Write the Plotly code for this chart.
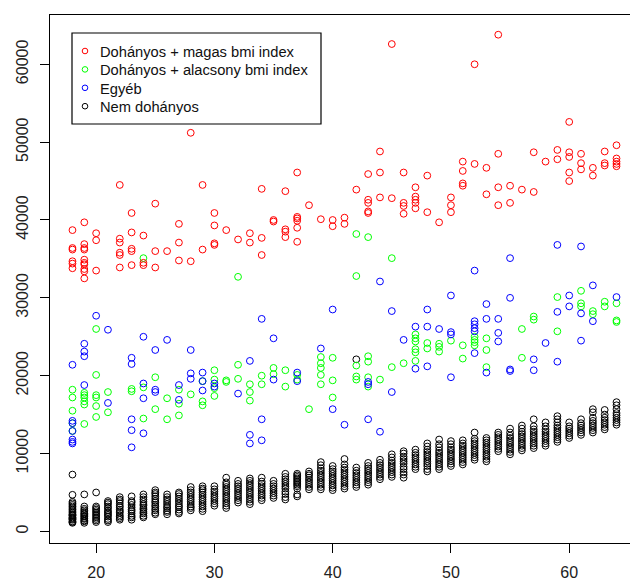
import plotly.graph_objects as go

# ---- data (age, charges in thousands of USD) ----
red_points = [
    (28,51.2),(22,44.5),(29,44.5),(37,46.1),(34,44.0),(36,43.7),(25,42.1),(38,41.9),(23,40.9),(30,40.9),
    (19,39.7),(18,38.7),(20,38.3),(20,37.4),(22,37.6),(22,37.1),(23,38.4),(24,38.0),(27,39.5),(27,37.1),
    (30,39.3),(30,37.0),(30,36.8),(31,38.7),(33,38.3),(32,37.5),(33,37.1),(34,37.7),(34,35.5),(35,40.0),
    (35,39.8),(36,38.8),(36,38.5),(36,37.8),(37,40.4),(37,40.2),(37,39.9),(37,39.0),(37,37.2),(39,40.1),
    (40,40.0),(40,39.2),(18,36.4),(18,36.2),(18,34.7),(18,34.4),(18,33.8),(19,36.9),(19,36.4),(19,36.2),
    (19,34.9),(19,34.5),(19,34.3),(19,33.7),(19,33.4),(19,32.5),(20,33.5),(22,35.8),(22,35.5),(22,33.9),
    (23,36.3),(23,36.0),(23,34.2),(24,34.5),(24,34.2),(25,36.0),(25,33.9),(26,36.0),(27,34.8),(28,34.7),
    (29,36.2),
    (60,52.6),(44,48.8),(43,45.9),(44,46.1),(46,46.1),(48,45.7),(42,43.9),(47,44.2),(43,42.6),(43,42.2),
    (43,41.1),(43,40.9),(44,42.9),(45,42.8),(46,42.2),(46,41.8),(46,40.8),(47,43.0),(47,42.6),(47,42.2),
    (47,41.5),(48,41.0),(49,39.7),(50,42.9),(50,41.9),(50,41.0),(51,47.5),(51,46.3),(51,44.7),(51,44.4),
    (52,47.2),(53,46.7),(53,43.3),(54,48.5),(54,44.2),(54,41.9),(55,44.4),(55,42.2),(56,43.9),(57,48.7),
    (57,43.6),(58,47.5),(59,49.0),(59,47.8),(60,48.7),(60,48.1),(60,46.1),(60,45.0),(61,48.5),(61,47.3),
    (61,46.5),(62,46.7),(62,45.7),(63,48.8),(63,47.3),(63,47.0),(64,49.6),(64,47.9),(64,47.5),(64,47.2),
    (64,46.9),(41,40.3),(41,39.5),(45,62.6),(52,60.0),(54,63.8),
]

green_points = [
    (24,35.1),(32,32.7),(42,38.2),(43,37.8),(45,35.1),(42,32.8),
    (20,26.0),(20,20.1),(18,18.2),(18,17.2),(19,17.8),(19,17.5),(19,17.2),(19,16.7),(19,16.3),(20,17.5),
    (20,17.2),(20,16.1),(21,17.9),(21,15.3),(18,15.5),(18,13.9),(19,13.8),(20,14.7),(23,18.3),(23,18.0),
    (24,18.5),(24,14.5),(25,19.8),(25,15.7),(26,17.1),(26,14.4),(27,18.2),(27,16.4),(27,14.9),(28,17.6),
    (29,19.3),(29,16.7),(29,16.2),(30,20.7),(30,19.5),(30,18.4),(30,17.4),(31,19.4),(31,19.2),(32,21.4),
    (32,19.6),(33,18.9),(33,17.9),(33,16.8),(34,20.0),(34,18.9),(35,21.0),(35,20.2),(36,20.7),(36,18.6),
    (37,20.1),(37,19.5),(38,15.7),(39,22.4),(39,21.6),(39,21.0),(39,20.1),(39,18.9),(40,22.3),(40,19.4),
    (40,17.2),(18,12.9),
    (42,21.3),(42,19.9),(42,19.5),(43,22.5),(43,21.8),(43,19.8),(43,18.6),(44,19.5),(45,21.1),(46,21.6),
    (47,25.3),(47,24.8),(47,24.4),(47,23.4),(47,23.0),(47,21.9),(48,24.2),(48,23.5),(49,24.1),(49,23.7),
    (49,23.1),(50,24.5),(51,23.9),(51,22.2),(52,25.0),(52,24.6),(52,24.3),(52,23.9),(53,24.8),(53,23.3),
    (53,21.1),(56,26.0),(56,22.3),(57,27.6),(57,27.2),(59,30.1),(59,25.7),(61,30.9),(61,29.3),(61,28.9),
    (62,28.3),(62,27.9),(63,29.5),(63,28.9),(64,29.3),(64,27.1),(64,26.9),
]

blue_points = [
    (44,32.1),(52,33.5),(55,35.1),(59,36.8),(61,36.6),(62,31.6),
    (20,27.7),(21,25.9),(19,24.1),(19,23.1),(19,22.5),(18,21.4),(24,25.0),(26,24.6),(25,23.3),(23,22.3),
    (23,21.5),(28,23.3),(34,27.3),(35,24.8),(33,21.9),(40,28.5),(39,23.5),(19,18.8),(18,14.2),(18,13.9),
    (18,12.9),(18,11.8),(18,11.5),(18,11.3),(21,16.5),(23,14.4),(23,13.0),(23,10.8),(24,19.0),(24,17.1),
    (24,12.6),(25,18.2),(25,17.9),(27,18.8),(27,16.9),(28,20.3),(28,19.6),(29,20.4),(29,19.3),(29,18.1),
    (30,19.0),(30,18.6),(32,17.7),(34,14.4),(34,11.7),(33,12.4),(33,11.3),(35,19.5),(37,20.4),(37,19.3),
    (40,15.7),
    (45,28.3),(48,28.5),(50,30.3),(53,29.2),(55,30.0),(60,30.3),(64,30.1),(47,26.3),(48,26.3),(49,26.0),
    (46,24.6),(50,25.6),(50,25.3),(52,27.0),(52,26.6),(52,26.1),(52,25.7),(52,22.9),(53,27.3),(54,27.3),
    (54,25.5),(54,24.4),(53,20.4),(55,20.8),(55,20.6),(57,22.1),(57,20.7),(58,24.2),(59,28.2),(59,21.8),
    (60,28.9),(61,28.0),(61,24.5),(62,27.0),(47,20.9),(48,21.2),(50,19.8),(43,19.2),(43,18.9),(45,17.9),
    (41,13.7),(43,14.4),(44,12.8),
]

nonsmoker_ages = list(range(18, 65))
nonsmoker_charges = [
    [1.1,1.2,1.3,1.5,1.6,1.7,1.8,2.0,2.1,2.2,2.4,2.6,2.8,3.0,3.2,3.4,3.6,3.8,4.7,7.3],
    [1.1,1.3,1.4,1.6,1.7,1.9,2.0,2.2,2.3,2.5,2.7,2.9,3.2,4.75],
    [1.2,1.4,1.6,1.8,2.0,2.2,2.4,2.6,2.8,3.0,3.2,5.0],
    [1.2,1.4,1.6,1.9,2.1,2.3,2.5,2.7,3.0,3.2,3.5,3.7,3.9],
    [1.5,1.7,1.9,2.1,2.4,2.6,2.8,3.1,3.3,3.6,3.9,4.1,4.4],
    [1.5,1.8,2.0,2.3,2.6,2.8,3.1,3.4,3.7,3.9,4.5],
    [1.8,2.0,2.3,2.5,2.8,3.0,3.3,3.5,3.8,4.1,4.4,4.75],
    [2.2,2.4,2.7,2.9,3.2,3.4,3.7,3.9,4.2,4.5,4.8,5.0,5.3],
    [2.2,2.5,2.7,3.0,3.2,3.5,3.8,4.1,4.4,4.75],
    [2.3,2.5,2.8,3.1,3.3,3.6,3.9,4.2,4.5,4.8,5.0],
    [2.7,3.0,3.2,3.5,3.8,4.1,4.4,4.7,5.0,5.3,5.7],
    [2.6,2.9,3.2,3.5,3.8,4.1,4.4,4.7,5.0,5.3,5.5,5.8],
    [3.3,3.6,3.9,4.2,4.5,4.8,5.1,5.4,5.8],
    [3.0,3.3,3.6,3.9,4.2,4.5,4.8,5.1,5.4,5.7,6.0,6.3,6.9],
    [3.7,4.0,4.3,4.6,4.9,5.2,5.5,5.8,6.1,6.5],
    [3.5,3.8,4.1,4.4,4.7,5.0,5.3,5.6,5.9,6.2,6.5,6.8],
    [4.0,4.3,4.6,4.9,5.2,5.5,5.8,6.1,6.4,6.9],
    [4.3,4.6,4.9,5.2,5.5,5.8,6.1,6.5],
    [4.1,4.4,4.8,5.1,5.5,5.8,6.1,6.4,6.7,7.0,7.4],
    [4.5,4.75,5.5,5.8,6.0,6.2,6.4,6.6,6.8,7.0,7.2,7.4],
    [5.4,5.7,6.0,6.3,6.6,6.9,7.2,7.4,7.7],
    [5.4,5.7,6.0,6.3,6.6,6.9,7.2,7.5,7.8,8.1,8.5,8.9],
    [5.3,5.6,5.9,6.2,6.5,6.8,7.1,7.4,7.7,8.0,8.4],
    [5.5,5.8,6.1,6.4,6.7,7.0,7.3,7.6,7.9,8.2,8.6,9.3],
    [5.7,6.0,6.3,6.6,6.9,7.2,7.5,7.8,8.2,22.1],
    [6.0,6.3,6.6,6.9,7.2,7.5,7.8,8.1,8.4,8.8],
    [6.7,7.0,7.3,7.6,7.9,8.2,8.5,8.8,9.2],
    [7.0,7.3,7.6,7.9,8.2,8.5,8.8,9.1,9.5,9.9],
    [6.9,7.3,7.6,8.0,8.3,8.7,9.0,9.3,9.6,10.0,10.3],
    [8.0,8.3,8.6,8.9,9.2,9.5,9.8,10.1,10.5],
    [7.7,8.0,8.4,8.7,9.0,9.3,9.6,9.9,10.2,10.5,10.9,11.3],
    [8.0,8.3,8.6,8.9,9.2,9.5,9.8,10.1,10.4,10.8,11.2,11.8],
    [8.4,8.7,9.0,9.3,9.6,9.9,10.2,10.5,10.8,11.2,11.6],
    [8.6,8.9,9.2,9.5,9.8,10.1,10.4,10.7,11.0,11.3,11.7],
    [9.2,9.5,9.8,10.1,10.4,10.7,11.0,11.3,11.6,11.9,12.7],
    [9.0,9.3,9.6,9.9,10.2,10.5,10.8,11.1,11.4,11.7,12.0],
    [10.3,10.6,10.9,11.2,11.5,11.8,12.1,12.4,12.7],
    [9.9,10.2,10.5,10.8,11.1,11.4,11.7,12.0,12.3,12.7,13.2],
    [10.4,10.7,11.0,11.3,11.6,11.9,12.2,12.5,12.8,13.2,13.6],
    [10.7,11.0,11.3,11.6,11.9,12.2,12.5,12.8,13.1,13.5,14.4],
    [11.0,11.3,11.6,11.9,12.2,12.5,12.8,13.1,13.5,14.0],
    [11.5,11.8,12.1,12.4,12.7,13.0,13.3,13.6,14.0,14.4,14.8],
    [12.0,12.3,12.6,12.9,13.2,13.5,14.0],
    [12.4,12.7,13.0,13.3,13.6,13.9,14.4],
    [12.7,13.0,13.3,13.6,13.9,14.2,14.6,15.3,15.7],
    [13.1,13.4,13.7,14.0,14.3,14.6,15.0,15.6],
    [13.7,14.0,14.3,14.6,14.9,15.2,15.7,16.2,16.6],
]

series_names = ["Dohányos + magas bmi index", "Dohányos + alacsony bmi index", "Egyéb", "Nem dohányos"]
series_colors = ["#FF0000", "#00FF00", "#0000FF", "#000000"]
x_ticks = [20, 30, 40, 50, 60]
y_ticks = [0, 10000, 20000, 30000, 40000, 50000, 60000]

FONT = "Liberation Sans, Arial, sans-serif"
W, H = 630, 581
ML, MR, MT, MB = 50, 0, 15, 38
PW, PH = W - ML - MR, H - MT - MB

def split(points):
    return [p[0] for p in points], [p[1] * 1000 for p in points]

bx, by = [], []
for a, vals in zip(nonsmoker_ages, nonsmoker_charges):
    for v in vals:
        bx.append(a)
        by.append(v * 1000)

groups = [split(red_points), split(green_points), split(blue_points), (bx, by)]

fig = go.Figure()
draw_order = [3, 1, 2, 0]
for i in draw_order:
    x, y = groups[i]
    fig.add_trace(go.Scatter(
        x=x, y=y, mode="markers", name=series_names[i], showlegend=False,
        marker=dict(symbol="circle-open", size=6.8, color=series_colors[i],
                    line=dict(width=1, color=series_colors[i])),
        hoverinfo="skip",
    ))

# ---- legend box in the R style (layout decoration, pixel positions) ----
def px_x(p):
    return (p - ML) / PW

def px_y(p):
    return (H - MB - p) / PH

box_l, box_r, box_t, box_b = 72, 321, 33, 124
row_y0, row_dy = 51, 18.4
sym_x, txt_x = 85, 98

shapes = [dict(type="rect", xref="paper", yref="paper",
               x0=px_x(box_l), x1=px_x(box_r), y0=px_y(box_b), y1=px_y(box_t),
               line=dict(color="black", width=1.2), fillcolor="white", layer="above")]
annotations = []
for k, (name, col) in enumerate(zip(series_names, series_colors)):
    cy = row_y0 + k * row_dy
    shapes.append(dict(type="circle", xref="paper", yref="paper",
                       xsizemode="pixel", ysizemode="pixel",
                       xanchor=px_x(sym_x), yanchor=px_y(cy),
                       x0=-2.8, x1=2.8, y0=-2.8, y1=2.8,
                       line=dict(color=col, width=1), layer="above"))
    annotations.append(dict(xref="paper", yref="paper", x=px_x(txt_x), y=px_y(cy + 1),
                            xanchor="left", yanchor="middle", showarrow=False,
                            text=name, font=dict(family=FONT, size=14.7, color="#111")))

fig.update_layout(
    width=W, height=H,
    margin=dict(l=ML, r=MR, t=MT, b=MB),
    paper_bgcolor="white", plot_bgcolor="white",
    font=dict(family=FONT, size=16, color="#222"),
    showlegend=False,
    shapes=shapes, annotations=annotations,
    xaxis=dict(
        range=[16.1, 65.14], tickvals=x_ticks, ticktext=[str(t) for t in x_ticks],
        showgrid=False, zeroline=False, showline=True, linecolor="black", linewidth=1,
        mirror=True, ticks="outside", ticklen=9, tickcolor="black", tickwidth=1,
        ticklabelstandoff=6,
    ),
    yaxis=dict(
        range=[-1490, 66330], tickvals=y_ticks, ticktext=[str(t) for t in y_ticks],
        showgrid=False, zeroline=False, showline=True, linecolor="black", linewidth=1,
        mirror=False, ticks="outside", ticklen=9, tickcolor="black", tickwidth=1,
        tickangle=-90, ticklabelstandoff=6,
    ),
)

fig.write_html(
    "out.html",
    config={"displayModeBar": False, "staticPlot": True},
    post_script="document.body.style.margin='0';document.body.style.overflow='hidden';",
)
